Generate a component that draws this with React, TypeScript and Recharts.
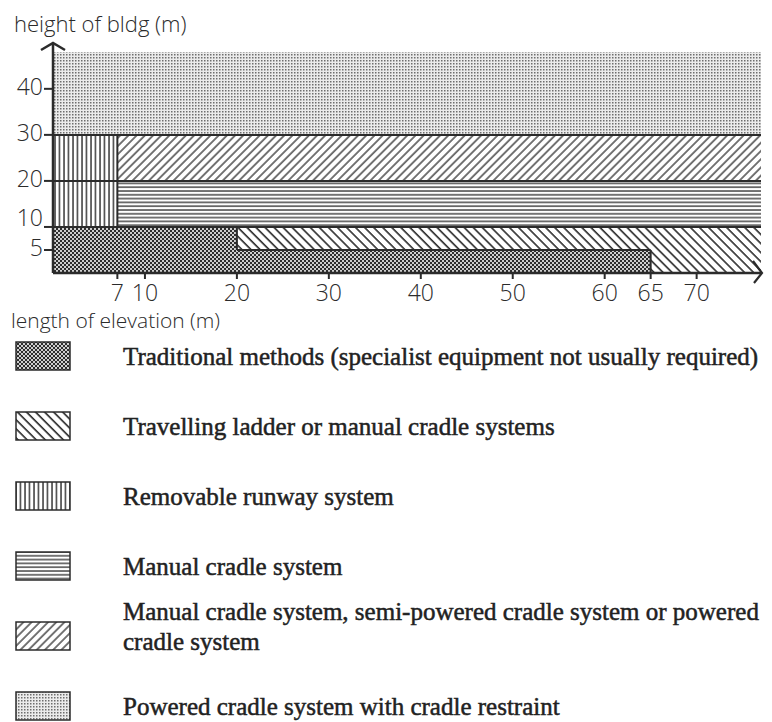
import React from 'react';
import {
  ComposedChart,
  XAxis,
  YAxis,
  ReferenceArea,
  ReferenceLine,
  ReferenceDot,
} from 'recharts';

// zones as [x1, x2, y1, y2] in metres (length of elevation, height of bldg)
const traditionalZones = [
  [0, 20, 0, 10],
  [20, 65, 0, 5],
];
const ladderZones = [
  [20, 77, 5, 10],
  [65, 77, 0, 5],
];
const runwayZones = [[0, 7, 10, 30]];
const manualZones = [[7, 77, 10, 20]];
const mixedZones = [[7, 77, 20, 30]];
const poweredZones = [[0, 77, 30, 48]];

// zone borders as [x1, y1, x2, y2]
const borders = [
  [0, 30, 77, 30],
  [0, 20, 77, 20],
  [0, 10, 77, 10],
  [7, 10, 7, 30],
  [20, 5, 20, 10],
  [20, 5, 65, 5],
  [65, 0, 65, 5],
];

const xTicks = [7, 10, 20, 30, 40, 50, 60, 65, 70];
const yTicks = [5, 10, 20, 30, 40];
const xMax = 77;
const yMax = 48;

const legendPatterns = ['trad', 'ladder', 'runway', 'manual', 'mixed', 'powered'];
const legendLabels = [
  ['Traditional methods (specialist equipment not usually required)'],
  ['Travelling ladder or manual cradle systems'],
  ['Removable runway system'],
  ['Manual cradle system'],
  ['Manual cradle system, semi-powered cradle system or powered', 'cradle system'],
  ['Powered cradle system with cradle restraint'],
];

const INK = '#2b2b2b';
const HAND = '"Open Sans", "DejaVu Sans", sans-serif';

function Patterns() {
  return (
    <svg width={0} height={0} style={{ position: 'absolute' }}>
      <defs>
        <pattern id="trad" width={4} height={4} patternUnits="userSpaceOnUse">
          <rect width={4} height={4} fill="#cfcfcf" />
          <rect x={0} y={0} width={2} height={2} fill="#2e2e2e" />
          <rect x={2} y={2} width={2} height={2} fill="#2e2e2e" />
        </pattern>
        <pattern id="powered" width={3} height={3} patternUnits="userSpaceOnUse">
          <rect width={3} height={3} fill="#ebebeb" />
          <rect x={0} y={0} width={1.5} height={1.5} fill="#6e6e6e" />
        </pattern>
        <pattern id="ladder" width={6.4} height={6.4} patternUnits="userSpaceOnUse" patternTransform="rotate(-45)">
          <rect width={6.4} height={6.4} fill="#fff" />
          <line x1={1} y1={0} x2={1} y2={6.4} stroke={INK} strokeWidth={1.6} />
        </pattern>
        <pattern id="mixed" width={5.8} height={5.8} patternUnits="userSpaceOnUse" patternTransform="rotate(45)">
          <rect width={5.8} height={5.8} fill="#fff" />
          <line x1={1} y1={0} x2={1} y2={5.8} stroke={INK} strokeWidth={1.3} />
        </pattern>
        <pattern id="manual" width={4} height={3.8} patternUnits="userSpaceOnUse">
          <rect width={4} height={3.8} fill="#fff" />
          <line x1={0} y1={1} x2={4} y2={1} stroke={INK} strokeWidth={1.3} />
        </pattern>
        <pattern id="runway" width={4.5} height={4} patternUnits="userSpaceOnUse">
          <rect width={4.5} height={4} fill="#fff" />
          <line x1={1} y1={0} x2={1} y2={4} stroke={INK} strokeWidth={1.4} />
        </pattern>
      </defs>
    </svg>
  );
}

const zoneSets: [number[][], string][] = [
  [poweredZones, 'powered'],
  [mixedZones, 'mixed'],
  [manualZones, 'manual'],
  [runwayZones, 'runway'],
  [ladderZones, 'ladder'],
  [traditionalZones, 'trad'],
];

function YTick(props: any) {
  const { x, y, payload } = props;
  // the "10" sits just above its tick in the original so it clears the "5"
  const lift = payload.value === 10 ? 9 : 2;
  return (
    <text x={x} y={y - lift} dy="0.36em" textAnchor="end" fontSize={23} fill={INK} fontFamily={HAND} fontWeight={300}>
      {payload.value}
    </text>
  );
}

function XTick(props: any) {
  const { x, y, payload } = props;
  return (
    <text x={x} y={y} dy="0.72em" textAnchor="middle" fontSize={23} fill={INK} fontFamily={HAND} fontWeight={300}>
      {payload.value}
    </text>
  );
}

const upArrow = (p: any) => (
  <path
    d={`M${p.cx},${p.cy} L${p.cx},${p.cy - 9} M${p.cx - 12},${p.cy - 2} L${p.cx},${p.cy - 9} L${p.cx + 12},${p.cy - 2}`}
    stroke={INK}
    strokeWidth={2.5}
    fill="none"
  />
);

const rightArrow = (p: any) => (
  <path
    d={`M${p.cx - 8},${p.cy - 12} L${p.cx + 1},${p.cy} L${p.cx - 7},${p.cy + 10}`}
    stroke={INK}
    strokeWidth={2.2}
    fill="none"
  />
);

export default function App() {
  return (
    <div style={{ position: 'absolute', left: 0, top: 0, width: 772, height: 722, background: '#fff', overflow: 'hidden' }}>
      <Patterns />
      <div style={{ position: 'absolute', left: 14, top: 8, fontFamily: HAND, fontSize: 22, fontWeight: 300, color: INK }}>
        height of bldg (m)
      </div>
      <ComposedChart
        width={772}
        height={340}
        data={[]}
        margin={{ top: 52, right: 11, left: 8, bottom: 27 }}
      >
        {zoneSets.map(([zones, pat]) =>
          zones.map((z, i) => (
            <ReferenceArea
              key={pat + i}
              x1={z[0]}
              x2={z[1]}
              y1={z[2]}
              y2={z[3]}
              fill={`url(#${pat})`}
              fillOpacity={1}
              stroke="none"
              ifOverflow="extendDomain"
            />
          ))
        )}
        {borders.map((b, i) => (
          <ReferenceLine
            key={'b' + i}
            segment={[
              { x: b[0], y: b[1] },
              { x: b[2], y: b[3] },
            ]}
            stroke={INK}
            strokeWidth={2}
          />
        ))}
        <XAxis
          type="number"
          dataKey="x"
          domain={[0, xMax]}
          ticks={xTicks}
          interval={0}
          allowDataOverflow
          height={40}
          tickSize={6}
          tickMargin={5}
          axisLine={{ stroke: INK, strokeWidth: 2.5 }}
          tickLine={{ stroke: INK, strokeWidth: 2 }}
          tick={<XTick />}
        />
        <YAxis
          type="number"
          dataKey="y"
          domain={[0, yMax]}
          ticks={yTicks}
          interval={0}
          allowDataOverflow
          width={45}
          tickSize={9}
          tickMargin={1}
          axisLine={{ stroke: INK, strokeWidth: 2.5 }}
          tickLine={{ stroke: INK, strokeWidth: 2 }}
          tick={<YTick />}
        />
        <ReferenceDot x={0} y={yMax} r={0} shape={upArrow} ifOverflow="visible" />
        <ReferenceDot x={xMax} y={0} r={0} shape={rightArrow} ifOverflow="visible" />
      </ComposedChart>
      <div
        style={{
          position: 'absolute',
          left: 11,
          top: 310,
          fontFamily: HAND,
          fontSize: 21,
          lineHeight: '21px',
          fontWeight: 300,
          color: INK,
        }}
      >
        length of elevation (m)
      </div>
      {legendLabels.map((lines, i) => {
        const top = 341 + i * 70;
        return (
          <React.Fragment key={i}>
            <svg style={{ position: 'absolute', left: 15, top }} width={56} height={30}>
              <rect x={1} y={1} width={54} height={28} fill={`url(#${legendPatterns[i]})`} stroke={INK} strokeWidth={1.5} />
            </svg>
            <div
              style={{
                position: 'absolute',
                left: 123,
                top: top + 1 - (lines.length - 1) * 25,
                fontFamily: '"Liberation Serif", "Times New Roman", serif',
                fontWeight: 'normal',
                fontSize: 25,
                lineHeight: '30px',
                color: '#222',
                WebkitTextStroke: '0.5px #222',
                whiteSpace: 'nowrap',
              }}
            >
              {lines.map((l, j) => (
                <div key={j}>{l}</div>
              ))}
            </div>
          </React.Fragment>
        );
      })}
    </div>
  );
}
